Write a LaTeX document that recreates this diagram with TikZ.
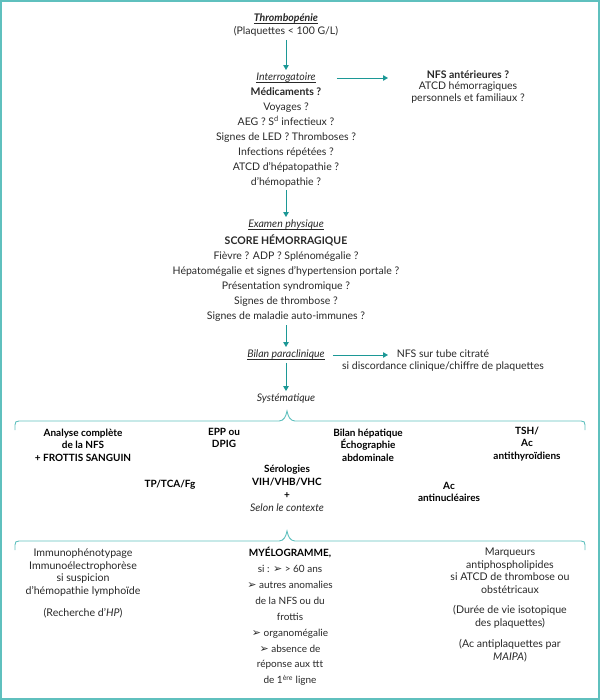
\documentclass[tikz,border=0pt]{standalone}
\usepackage{fontspec}
\setmainfont{Lato}
\newfontfamily\symfont{DejaVu Sans}
\usetikzlibrary{arrows.meta}
\definecolor{framec}{RGB}{95,192,190}
\definecolor{arrowc}{RGB}{28,152,150}
\definecolor{txt}{RGB}{40,40,40}
\newcommand\myul[1]{\setbox0\hbox{#1}\rlap{\rule[-1.6pt]{\wd0}{0.5pt}}\box0}
\newcommand\puce{{\symfont\fontsize{11}{11}\selectfont\raisebox{-0.3pt}{➢}}}
\begin{document}
\begin{tikzpicture}[x=1pt,y=-1pt,
  every node/.style={text=txt, align=center, inner sep=3pt, font=\fontsize{10.5}{15}\selectfont},
  arr/.style={draw=arrowc, line width=0.9pt, -{Triangle[length=5pt,width=5.5pt]}},
  bracec/.style={draw=framec, line width=0.9pt},
  blk/.style={font=\fontsize{10}{12.6}\selectfont\bfseries, text=black},
  small/.style={font=\fontsize{10.6}{12.4}\selectfont},
]
\useasboundingbox (0,0) rectangle (600,700);
\draw[framec, line width=2pt] (1,1) rectangle (599,699);

% top chain
\node[font=\fontsize{10.5}{13}\selectfont] (thromb) at (286,25.5) {{\bfseries\itshape\myul{Thrombopénie}}\\(Plaquettes < 100 G/L)};
\node (interT) at (286,78) {\itshape\myul{Interrogatoire}};
\node (interL) at (286,137.5) {{\bfseries Médicaments ?}\\Voyages ?\\AEG ? S\textsuperscript{d} infectieux ?\\Signes de LED ? Thromboses ?\\Infections répétées ?\\ATCD d’hépatopathie ?\\d’hémopathie ?};
\node[font=\fontsize{10.5}{11.5}\selectfont] (nfs) at (468,87) {{\bfseries NFS antérieures ?}\\ATCD hémorragiques\\personnels et familiaux ?};
\node (exT) at (286,225) {\itshape\myul{Examen physique}};
\node (exL) at (286,278.5) {{\bfseries SCORE HÉMORRAGIQUE}\\Fièvre ? ADP ? Splénomégalie ?\\Hépatomégalie et signes d’hypertension portale ?\\Présentation syndromique ?\\Signes de thrombose ?\\Signes de maladie auto-immunes ?};
\node (bilan) at (286,355) {\itshape\myul{Bilan paraclinique}};
\node[font=\fontsize{10.5}{12}\selectfont] (nfst) at (443,361) {NFS sur tube citraté\\si discordance clinique/chiffre de plaquettes};
\coordinate (nfstip) at (388,355);
\node (syst) at (286,399) {\itshape Systématique};

\draw[arr] (thromb) -- (interT);
\draw[arr, shorten <=18pt] (interT.east) -- (interT.east -| 388,0);
\draw[arr] (interL) -- (exT);
\draw[arr] (exL) -- (bilan);
\draw[arr, shorten <=5pt] (bilan.east) -- (nfstip);
\draw[arr] (bilan) -- (syst);

% brace 1
\draw[bracec] (15,430) -- (15,425) .. controls (15,422) and (16,421) .. (19,421) -- (279,421)
  .. controls (284,421) and (286,416) .. (287,411) .. controls (288,416) and (290,421) .. (295,421)
  -- (581,421) .. controls (584,421) and (585,422) .. (585,425) -- (585,430);

\node[blk] (c1) at (83,445) {Analyse complète\\de la NFS\\+ FROTTIS SANGUIN};
\node[blk] (c2) at (224,438) {EPP ou\\DPIG};
\node[blk] (c3) at (368,445) {Bilan hépatique\\Échographie\\abdominale};
\node[blk] (c4) at (527,444) {TSH/\\Ac\\antithyroïdiens};
\node[blk] (c5) at (170,485) {TP/TCA/Fg};
\node[blk, font=\fontsize{10}{13}\selectfont\bfseries] (c6) at (287,488) {Sérologies\\VIH/VHB/VHC\\+\\{\mdseries\itshape\color{txt}\fontsize{10.5}{13}\selectfont Selon le contexte}};
\node[blk] (c7) at (449,492) {Ac\\antinucléaires};

% brace 2
\draw[bracec] (15,550) -- (15,545) .. controls (15,542) and (16,541) .. (19,541) -- (279,541)
  .. controls (284,541) and (286,536) .. (287,531) .. controls (288,536) and (290,541) .. (295,541)
  -- (581,541) .. controls (584,541) and (585,542) .. (585,545) -- (585,550);

\node[small] (d1) at (83,583.5) {Immunophénotypage\\Immunoélectrophorèse\\si suspicion\\d’hémopathie lymphoïde\\[10pt](Recherche d’\textit{HP})};
\node[font=\fontsize{10}{15.9}\selectfont] (d2) at (290,616.5) {{\bfseries\color{black}MYÉLOGRAMME,}\\si : \puce{} > 60 ans\\\puce{} autres anomalies\\de la NFS ou du\\frottis\\\puce{} organomégalie\\\puce{} absence de\\réponse aux ttt\\de 1\textsuperscript{ère} ligne};
\node[small] (d3) at (510,605) {Marqueurs\\antiphospholipides\\si ATCD de thrombose ou\\obstétricaux\\[8.5pt](Durée de vie isotopique\\des plaquettes)\\[9pt](Ac antiplaquettes par\\\textit{MAIPA})};
\end{tikzpicture}
\end{document}
